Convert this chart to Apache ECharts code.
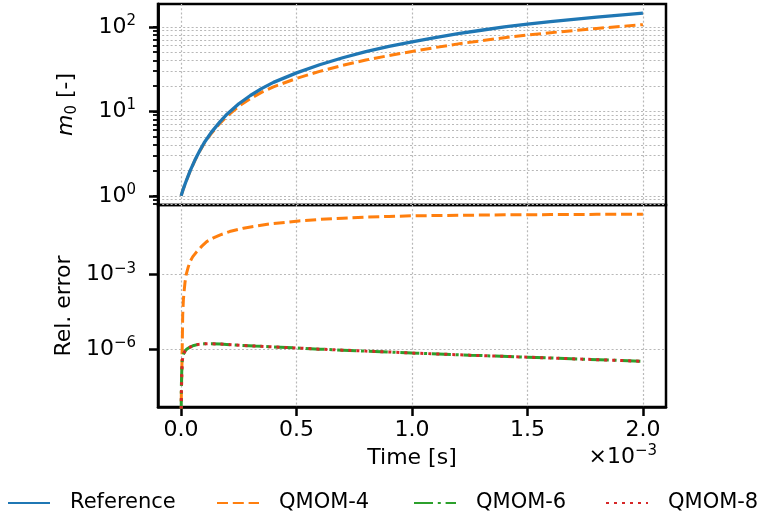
<!DOCTYPE html>
<html>
<head>
<meta charset="utf-8">
<title>m0 and relative error</title>
<script src="https://cdn.jsdelivr.net/npm/echarts@6/dist/echarts.min.js"></script>
<style>
  body { margin: 0; background: #fff; }
  #main { width: 763px; height: 520px; }
</style>
</head>
<body>
<div id="main"></div>
<script type="text/javascript">
// time in units of 1e-3 s (axis shows the x10^-3 offset)
var tTop = [0, 0.01, 0.02, 0.04, 0.06, 0.08, 0.10, 0.13, 0.17, 0.20, 0.25, 0.30, 0.35, 0.40, 0.50,
            0.60, 0.70, 0.80, 0.90, 1.00, 1.10, 1.20, 1.30, 1.40, 1.50, 1.60, 1.70, 1.80, 1.90, 2.00];
var m0Ref = [1.0, 1.22, 1.45, 2.0, 2.65, 3.4, 4.25, 5.6, 7.6, 9.3, 12.3, 15.4, 18.7, 22.0, 28.5,
             35.6, 43.0, 50.8, 58.5, 66.5, 74.5, 83.0, 91.0, 99.5, 107.5, 115, 122.5, 130, 137.5, 145];
var m0Q4 = [1.0, 1.22, 1.45, 1.99, 2.63, 3.36, 4.17, 5.44, 7.3, 8.83, 11.47, 14.12, 16.87, 19.5, 24.5,
            29.7, 35.0, 40.4, 45.7, 51.1, 56.8, 62.8, 68.4, 74.3, 79.9, 85.1, 90.3, 95.5, 100.8, 106];

var tErr4 = [0, 0.001, 0.003, 0.005, 0.007, 0.01, 0.013, 0.017, 0.022, 0.03, 0.039, 0.05, 0.068, 0.09,
             0.111, 0.14, 0.17, 0.21, 0.27, 0.33, 0.385, 0.45, 0.51, 0.6, 0.7, 0.8, 0.9, 1.0, 1.2, 1.4,
             1.6, 1.8, 2.0];
var errQ4 = [1e-10, 1.5e-8, 1e-7, 1.5e-6, 2.5e-5, 1e-4, 2.1e-4, 5e-4, 1e-3, 1.9e-3, 3.4e-3, 5.2e-3,
             8.5e-3, 0.0141, 0.0214, 0.030, 0.040, 0.054, 0.074, 0.091, 0.110, 0.126, 0.145, 0.166,
             0.186, 0.204, 0.219, 0.232, 0.243, 0.253, 0.260, 0.265, 0.269];

var tLow = [0, 0.001, 0.003, 0.005, 0.008, 0.012, 0.017, 0.025, 0.039, 0.055, 0.075, 0.1, 0.13, 0.17,
            0.24, 0.32, 0.4, 0.5, 0.6, 0.7, 0.8, 0.9, 1.0, 1.25, 1.5, 1.75, 2.0];
var errQ6 = [1e-10, 3e-8, 1.5e-7, 3.5e-7, 5.5e-7, 7e-7, 8.5e-7, 1.05e-6, 1.25e-6, 1.45e-6, 1.6e-6,
             1.68e-6, 1.7e-6, 1.65e-6, 1.5e-6, 1.37e-6, 1.27e-6, 1.14e-6, 1.03e-6, 9.4e-7, 8.6e-7,
             7.9e-7, 7.2e-7, 5.9e-7, 4.9e-7, 4.05e-7, 3.35e-7];
var errQ8 = [1e-10, 1.2e-8, 1.2e-7, 3.2e-7, 5.4e-7, 7e-7, 8.5e-7, 1.05e-6, 1.25e-6, 1.45e-6, 1.6e-6,
             1.68e-6, 1.7e-6, 1.65e-6, 1.5e-6, 1.37e-6, 1.27e-6, 1.14e-6, 1.03e-6, 9.4e-7, 8.6e-7,
             7.9e-7, 7.2e-7, 5.9e-7, 4.9e-7, 4.05e-7, 3.35e-7];

var xTicks = [0, 0.5, 1.0, 1.5, 2.0];
var topMajor = [1, 10, 100];
var topMinor = [0.8, 0.9, 1, 2, 3, 4, 5, 6, 7, 8, 9, 10, 20, 30, 40, 50, 60, 70, 80, 90, 100];
var errMajor = [1e-6, 1e-3];

var FONT = 'DejaVu Sans';

function pairs(xs, ys) {
    return xs.map(function (x, i) { return [x, ys[i]]; });
}

function powLabel(v) {
    var e = Math.round(Math.log10(v));
    return '{b|10}{sup|' + String(e).replace('-', '\u2212') + '}';
}

var supRich = {
    b: { fontSize: 22, lineHeight: 27, fontFamily: FONT, color: '#000' },
    sup: { fontSize: 15, lineHeight: 15, verticalAlign: 'top', fontFamily: FONT, color: '#000' }
};

var gridLine = { color: '#b8b8b8', width: 1.2, type: [2, 2.2] };
var nameStyle = { fontSize: 22, fontFamily: FONT, color: '#000' };
var frameLine = { show: true, onZero: false, lineStyle: { color: '#000', width: 2.5 } };

var myChart = echarts.init(document.getElementById('main'));

myChart.setOption({
    animation: false,
    backgroundColor: '#fff',
    grid: [
        { left: 158, top: 4, width: 508, height: 201, show: true, borderColor: '#000', borderWidth: 2.5 },
        { left: 158, top: 205, width: 508, height: 202, show: true, borderColor: '#000', borderWidth: 2.5 }
    ],
    xAxis: [
        {
            gridIndex: 0, type: 'value', min: -0.1, max: 2.1,
            axisLine: { show: false, onZero: false },
            axisTick: { show: false, customValues: xTicks },
            axisLabel: { show: false, customValues: xTicks },
            splitLine: { show: true, lineStyle: gridLine }
        },
        {
            gridIndex: 1, type: 'value', min: -0.1, max: 2.1, position: 'bottom',
            axisLine: frameLine,
            axisTick: { show: true, customValues: xTicks, length: 9, lineStyle: { color: '#000', width: 2.5 } },
            axisLabel: {
                customValues: xTicks, margin: 12, fontSize: 22, fontFamily: FONT, color: '#000',
                formatter: function (v) { return v.toFixed(1); }
            },
            splitLine: { show: true, lineStyle: gridLine },
            name: 'Time [s]', nameLocation: 'middle', nameGap: 40, nameTextStyle: nameStyle
        }
    ],
    yAxis: [
        {
            gridIndex: 0, type: 'log', logBase: 10, min: 0.78, max: 186, position: 'left',
            axisLine: frameLine,
            axisTick: { show: true, customValues: topMinor, length: 5, lineStyle: { color: '#000', width: 1.8 } },
            axisLabel: { show: false },
            splitLine: { show: true, lineStyle: gridLine }
        },
        {
            gridIndex: 0, type: 'log', logBase: 10, min: 0.78, max: 186, position: 'left',
            axisLine: frameLine,
            axisTick: { show: true, customValues: topMajor, length: 9, lineStyle: { color: '#000', width: 2.5 } },
            axisLabel: { customValues: topMajor, margin: 22, formatter: powLabel, rich: supRich },
            splitLine: { show: false },
            name: '{it|m}{sub|0} [-]', nameLocation: 'middle', nameGap: 78,
            nameTextStyle: {
                fontSize: 22, fontFamily: FONT, color: '#000',
                rich: {
                    it: { fontSize: 22, fontStyle: 'italic', fontFamily: FONT, color: '#000', lineHeight: 27 },
                    sub: { fontSize: 15, fontFamily: FONT, color: '#000', lineHeight: 15, verticalAlign: 'bottom' }
                }
            }
        },
        {
            gridIndex: 1, type: 'log', logBase: 10, min: 4.9e-9, max: 0.63, position: 'left',
            axisLine: frameLine,
            axisTick: { show: true, customValues: errMajor, length: 9, lineStyle: { color: '#000', width: 2.5 } },
            axisLabel: { customValues: errMajor, margin: 22, formatter: powLabel, rich: supRich },
            splitLine: { show: true, lineStyle: gridLine },
            name: 'Rel. error', nameLocation: 'middle', nameGap: 78, nameTextStyle: nameStyle
        }
    ],
    legend: [
        { data: ['Reference'], left: 7 },
        { data: ['QMOM-4'], left: 216 },
        { data: ['QMOM-6'], left: 413 },
        { data: ['QMOM-8'], left: 605 }
    ].map(function (l) {
        l.top = 491;
        l.padding = 0;
        l.itemWidth = 42;
        l.itemHeight = 14;
        l.itemStyle = { opacity: 0 };
        l.textStyle = { fontSize: 21, fontFamily: FONT, color: '#000', padding: [0, 0, 0, 15], lineHeight: 24 };
        return l;
    }),
    graphic: [{
        type: 'text',
        x: 657, y: 457,
        style: {
            text: '\u00d7{b|10}{sup|\u22123}',
            align: 'right', verticalAlign: 'middle',
            fontSize: 22, fontFamily: FONT, fill: '#000',
            rich: supRich
        }
    }],
    series: [
        {
            name: 'QMOM-4', type: 'line', xAxisIndex: 0, yAxisIndex: 0, symbol: 'none', z: 2,
            data: pairs(tTop, m0Q4),
            lineStyle: { color: '#ff7f0e', width: 3, type: [11, 4.8] }, itemStyle: { color: '#ff7f0e' }
        },
        {
            name: 'Reference', type: 'line', xAxisIndex: 0, yAxisIndex: 0, symbol: 'none', z: 3,
            data: pairs(tTop, m0Ref),
            lineStyle: { color: '#1f77b4', width: 3.3, type: 'solid' }, itemStyle: { color: '#1f77b4' }
        },
        {
            name: 'QMOM-4', type: 'line', xAxisIndex: 1, yAxisIndex: 2, symbol: 'none', z: 2,
            data: pairs(tErr4, errQ4),
            lineStyle: { color: '#ff7f0e', width: 3, type: [11, 4.8] }, itemStyle: { color: '#ff7f0e' }
        },
        {
            name: 'QMOM-6', type: 'line', xAxisIndex: 1, yAxisIndex: 2, symbol: 'none', z: 3,
            data: pairs(tLow, errQ6),
            lineStyle: { color: '#2ca02c', width: 3, type: [19, 4.8, 3, 4.8] }, itemStyle: { color: '#2ca02c' }
        },
        {
            name: 'QMOM-8', type: 'line', xAxisIndex: 1, yAxisIndex: 2, symbol: 'none', z: 4,
            data: pairs(tLow, errQ8),
            lineStyle: { color: '#d62728', width: 3, type: [3, 5] }, itemStyle: { color: '#d62728' }
        }
    ]
});
</script>
</body>
</html>
